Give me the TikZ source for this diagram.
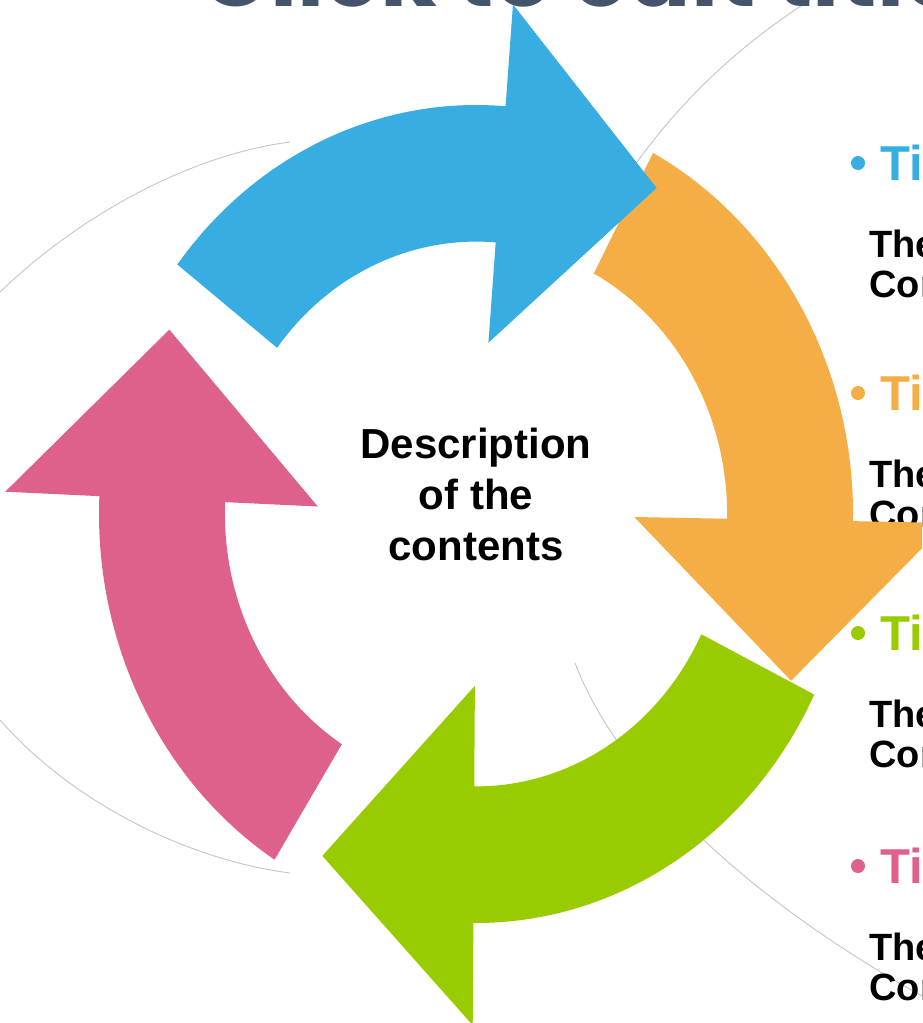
\documentclass[tikz,border=0pt]{standalone}
\usepackage{fontspec}
\setmainfont{Liberation Sans}
\newfontfamily\slidetitlefont{Poppins}
\usepackage{xcolor}
\definecolor{cycleblue}{RGB}{55,173,225}
\definecolor{cycleorange}{RGB}{245,173,69}
\definecolor{cyclegreen}{RGB}{153,204,0}
\definecolor{cyclepink}{RGB}{222,97,140}
\definecolor{slidetitle}{RGB}{68,84,106}
\definecolor{orbitgray}{RGB}{196,196,196}
\usepackage{tikz}
\usetikzlibrary{positioning}

\tikzset{
  orbit/.style={draw=orbitgray,line width=0.45pt},
  itemtitle/.style={anchor=base west,inner sep=0pt,font=\fontsize{24.5}{28}\selectfont\bfseries},
  itembody/.style={anchor=base west,inner sep=0pt,font=\fontsize{19}{20}\selectfont\bfseries},
}

% colour, tail angle, head base angle, tip angle
\newcommand{\cyclearrow}[4]{%
  \fill[#1] (#2:1) arc (#2:#3:1) -- (#3:1.25) -- (#4:0.93) -- (#3:0.42)
    -- (#3:0.666) arc (#3:#2:0.666) -- cycle;}

\begin{document}
\begin{tikzpicture}[x=0.5pt,y=-0.5pt]
  \useasboundingbox (0,0) rectangle (922,1023);
  \clip (0,0) rectangle (922,1023);

  \draw[orbit] (0,292) .. controls (80,215) and (190,155) .. (290,142);
  \draw[orbit] (630,172) .. controls (680,100) and (740,45) .. (810,0);
  \draw[orbit] (0,720) .. controls (75,805) and (190,860) .. (290,873);
  \draw[orbit] (575,663) .. controls (620,780) and (750,900) .. (922,996);

  \node[anchor=base west,inner sep=0pt,text=slidetitle,
        font=\slidetitlefont\fontsize{46}{48}\selectfont\bfseries] (slidetitle) at (200,6) {Click to edit title};

  \foreach \col/\ty/\n in {cycleblue/180/1,cycleorange/410/2,cyclegreen/650/3,cyclepink/883/4} {
    \fill[\col] (858,\ty-17) circle (7);
    \node[itemtitle,text=\col] (title\n) at (880,\ty) {Title};
    \node[itembody] (body\n) at (869,\ty+77) {The};
    \node[itembody] (more\n) at (869,\ty+117) {Con};
  }

  \begin{scope}[shift={(476,514)},x=188.5pt,y=204.5pt]
    \cyclearrow{cycleorange}{62}{-1}{-26}
    \cyclearrow{cycleblue}{142.4}{85.5}{59}
    \cyclearrow{cyclegreen}{-26.2}{-90.4}{-116}
    \cyclearrow{cyclepink}{237.7}{177.5}{151}
  \end{scope}

  \node[align=center,inner sep=0pt,font=\fontsize{21}{25.5}\selectfont\bfseries] (contents) at (476,494)
    {Description\\of the\\contents};
\end{tikzpicture}
\end{document}
